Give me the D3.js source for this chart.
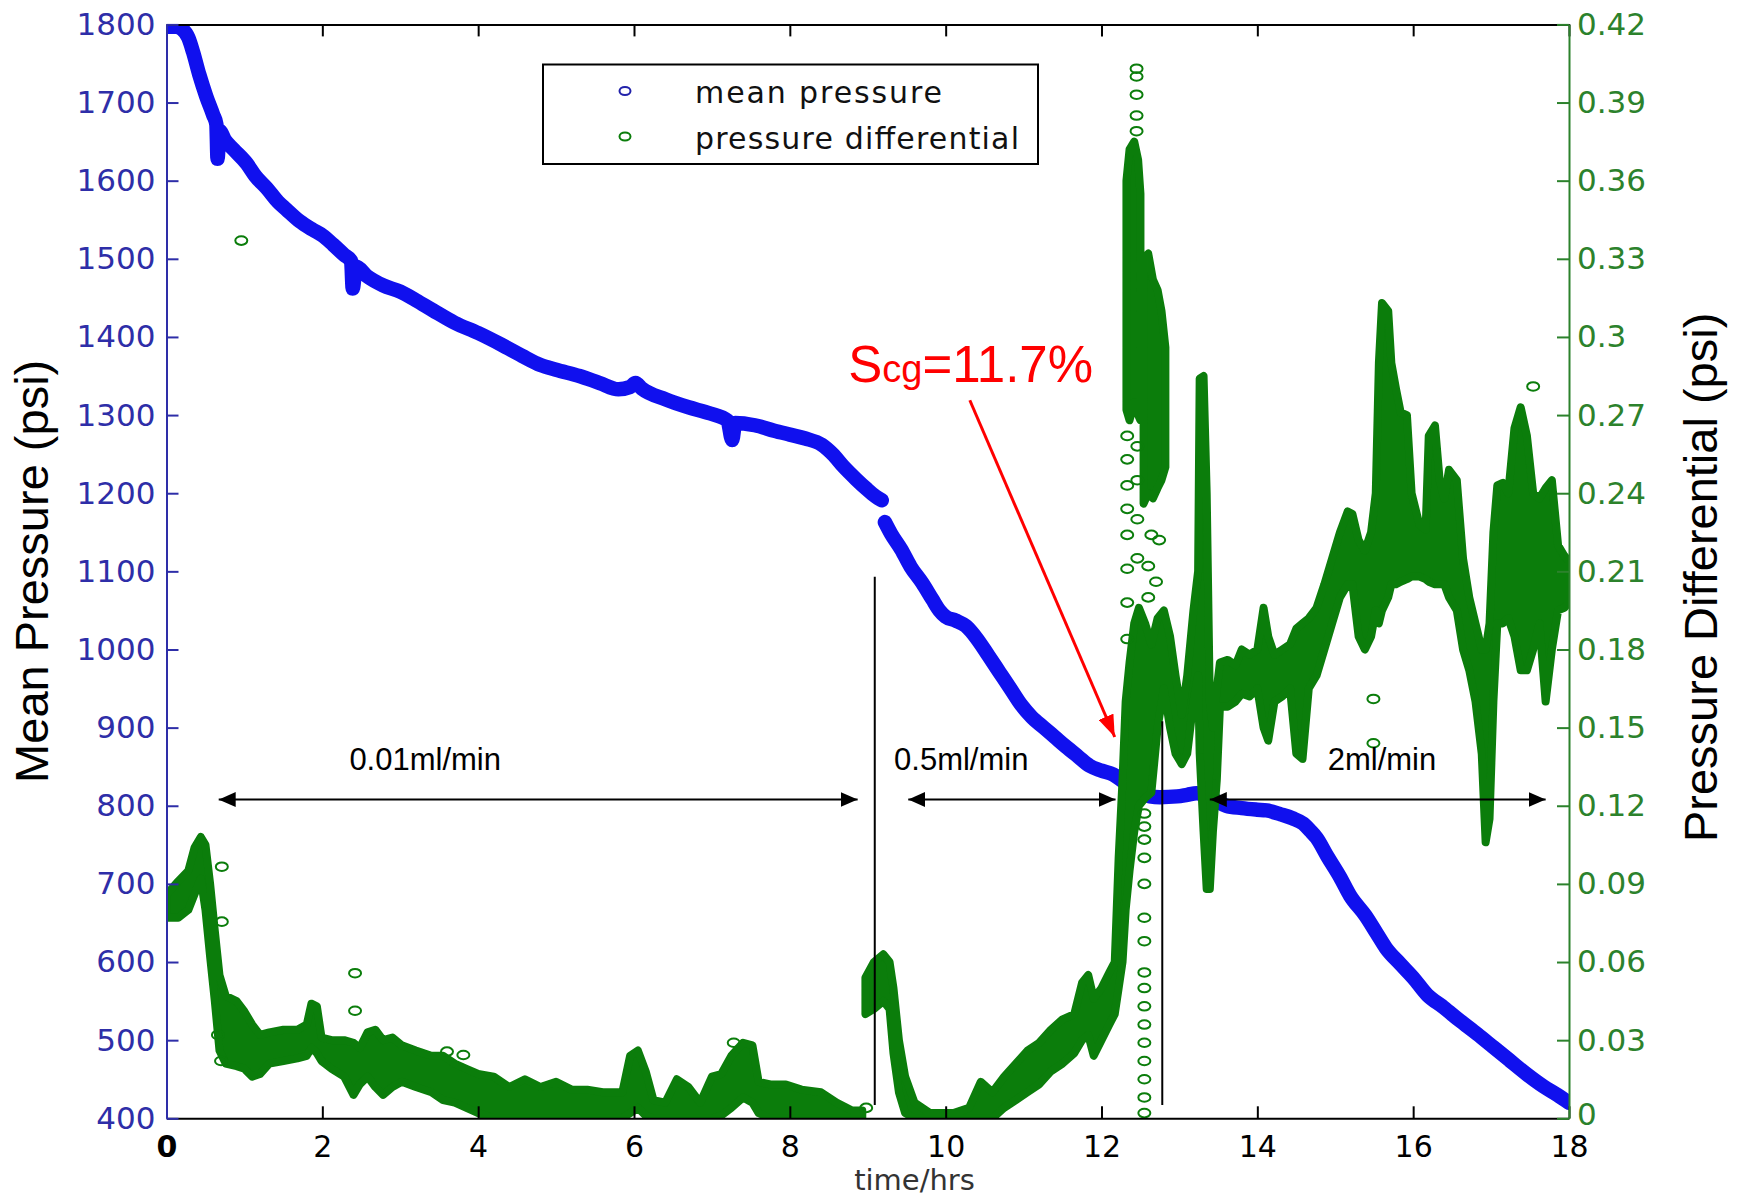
<!DOCTYPE html>
<html>
<head>
<meta charset="utf-8">
<script src="https://cdn.jsdelivr.net/npm/d3@7"></script>
<style>
  html, body { margin: 0; padding: 0; background: #ffffff; }
  svg { display: block; }
</style>
</head>
<body>
<svg id="chart" width="1741" height="1199"></svg>
<script>
// ---- axis ticks ----
const timeTicks = [0, 2, 4, 6, 8, 10, 12, 14, 16, 18];
const pressureTicks = [400, 500, 600, 700, 800, 900, 1000, 1100, 1200, 1300, 1400, 1500, 1600, 1700, 1800];
const diffTicks = [0, 0.03, 0.06, 0.09, 0.12, 0.15, 0.18, 0.21, 0.24, 0.27, 0.30, 0.33, 0.36, 0.39, 0.42];
const diffTickLabels = ["0", "0.03", "0.06", "0.09", "0.12", "0.15", "0.18", "0.21", "0.24", "0.27", "0.3", "0.33", "0.36", "0.39", "0.42"];

// ---- mean pressure samples: [hours, psi]; null = short logging gap ----
const meanPressure = [
  [0.00, 1797], [0.12, 1797], [0.20, 1794], [0.28, 1783], [0.34, 1765], [0.42, 1736],
  [0.51, 1708], [0.60, 1684], [0.64, 1672], [0.655, 1628], [0.68, 1664], [0.75, 1652],
  [0.86, 1640], [1.03, 1622], [1.14, 1606], [1.29, 1590], [1.43, 1573], [1.54, 1563],
  [1.71, 1548], [1.88, 1537], [2.00, 1530], [2.14, 1518], [2.28, 1505], [2.37, 1497],
  [2.39, 1462], [2.43, 1490], [2.57, 1478], [2.78, 1466], [3.00, 1458], [3.20, 1447],
  [3.42, 1434], [3.70, 1418], [4.00, 1405], [4.30, 1390], [4.56, 1376], [4.80, 1364],
  [5.00, 1358], [5.30, 1350], [5.56, 1341], [5.80, 1333], [5.95, 1336], [6.02, 1341],
  [6.10, 1334], [6.41, 1320], [6.70, 1310], [6.98, 1302], [7.20, 1293], [7.26, 1268],
  [7.30, 1290], [7.55, 1287], [7.80, 1280], [8.00, 1275], [8.20, 1270], [8.41, 1262],
  [8.55, 1250], [8.69, 1234], [8.85, 1218], [8.98, 1206], [9.10, 1196], [9.18, 1191],
  [9.20, null],
  [9.22, 1163], [9.30, 1148], [9.43, 1128], [9.55, 1106], [9.70, 1085], [9.83, 1064],
  [9.92, 1050], [10.00, 1042], [10.13, 1037], [10.26, 1030], [10.40, 1014], [10.55, 992],
  [10.69, 971], [10.83, 950], [10.97, 929], [11.10, 914], [11.26, 900], [11.40, 888],
  [11.54, 876], [11.70, 863], [11.85, 851], [12.00, 845], [12.15, 840], [12.28, 831],
  [12.40, 824], [12.50, 818], [12.62, 812], [12.75, 811], [12.97, 812], [13.10, 814],
  [13.22, 816], [13.35, 813], [13.48, 806], [13.60, 800], [13.80, 797], [14.00, 795],
  [14.12, 794], [14.30, 789], [14.45, 784], [14.59, 777], [14.68, 768], [14.76, 759],
  [14.90, 735], [15.06, 709], [15.19, 685], [15.39, 659], [15.53, 637], [15.65, 618],
  [15.84, 597], [16.00, 580], [16.18, 558], [16.39, 542], [16.60, 525], [16.82, 508],
  [17.03, 491], [17.24, 474], [17.45, 457], [17.67, 441], [17.85, 430], [18.00, 420]
];

// ---- pressure differential, dense readings: [hours, low psi, high psi] ----
const diffBand = [
  [0.00, 0.077, 0.086], [0.15, 0.077, 0.091], [0.28, 0.080, 0.095], [0.36, 0.086, 0.104],
  [0.44, 0.092, 0.108], [0.50, 0.080, 0.105], [0.56, 0.062, 0.090], [0.62, 0.045, 0.072],
  [0.68, 0.026, 0.055], [0.76, 0.021, 0.047], [0.90, 0.020, 0.045], [1.00, 0.019, 0.041],
  [1.10, 0.016, 0.036], [1.20, 0.017, 0.032], [1.32, 0.021, 0.033], [1.50, 0.022, 0.034],
  [1.68, 0.023, 0.034], [1.80, 0.024, 0.036], [1.86, 0.027, 0.044], [1.93, 0.025, 0.043],
  [1.99, 0.022, 0.031], [2.12, 0.019, 0.030], [2.28, 0.016, 0.030], [2.40, 0.009, 0.029],
  [2.48, 0.013, 0.027], [2.58, 0.016, 0.033], [2.68, 0.012, 0.034], [2.78, 0.009, 0.030],
  [2.90, 0.012, 0.031], [3.02, 0.014, 0.028], [3.20, 0.012, 0.026], [3.40, 0.010, 0.024],
  [3.55, 0.007, 0.024], [3.70, 0.006, 0.021], [3.85, 0.004, 0.019], [4.00, 0.002, 0.017],
  [4.20, 0.000, 0.016], [4.40, 0.000, 0.012], [4.60, 0.000, 0.015], [4.80, 0.000, 0.012],
  [5.00, 0.000, 0.014], [5.20, 0.000, 0.011], [5.40, 0.000, 0.011], [5.60, 0.000, 0.010],
  [5.85, 0.000, 0.010], [5.95, 0.002, 0.024], [6.05, 0.004, 0.026], [6.15, 0.001, 0.018],
  [6.25, 0.000, 0.007], [6.40, 0.000, 0.006], [6.55, 0.000, 0.015], [6.70, 0.000, 0.012],
  [6.85, 0.000, 0.006], [7.00, 0.000, 0.016], [7.12, 0.001, 0.017], [7.25, 0.004, 0.024],
  [7.40, 0.008, 0.029], [7.52, 0.006, 0.028], [7.60, 0.002, 0.014], [7.75, 0.000, 0.013],
  [7.95, 0.000, 0.013], [8.15, 0.000, 0.011], [8.40, 0.000, 0.010], [8.60, 0.000, 0.006],
  [8.80, 0.000, 0.003], [8.93, 0.000, 0.003],
  [8.95, null, null],
  [8.97, 0.040, 0.054], [9.08, 0.042, 0.060], [9.20, 0.045, 0.063], [9.28, 0.042, 0.060],
  [9.33, 0.025, 0.050], [9.40, 0.010, 0.030], [9.48, 0.002, 0.016], [9.60, 0.000, 0.006],
  [9.80, 0.000, 0.002], [10.10, 0.000, 0.002], [10.30, 0.000, 0.004], [10.45, 0.000, 0.014],
  [10.60, 0.000, 0.010], [10.75, 0.004, 0.016], [10.90, 0.007, 0.021], [11.05, 0.010, 0.026],
  [11.20, 0.013, 0.029], [11.35, 0.018, 0.034], [11.50, 0.021, 0.038], [11.65, 0.025, 0.040],
  [11.75, 0.030, 0.052], [11.83, 0.032, 0.055], [11.90, 0.024, 0.046], [12.00, 0.030, 0.050],
  [12.10, 0.036, 0.056], [12.17, 0.040, 0.060], [12.22, 0.050, 0.100], [12.27, 0.060, 0.130],
  [12.31, 0.080, 0.160], [12.36, 0.095, 0.175], [12.42, 0.110, 0.190], [12.48, 0.120, 0.196],
  [12.56, 0.123, 0.190], [12.64, 0.125, 0.182], [12.72, 0.150, 0.192], [12.80, 0.165, 0.195],
  [12.88, 0.150, 0.185], [12.95, 0.140, 0.170], [13.03, 0.136, 0.155], [13.10, 0.140, 0.170],
  [13.18, 0.160, 0.195], [13.24, 0.170, 0.210], [13.26, 0.140, 0.284], [13.31, 0.110, 0.285],
  [13.35, 0.088, 0.240], [13.39, 0.088, 0.160], [13.43, 0.110, 0.150], [13.48, 0.130, 0.165],
  [13.52, 0.158, 0.175], [13.62, 0.158, 0.176], [13.72, 0.160, 0.174], [13.80, 0.163, 0.180],
  [13.90, 0.162, 0.178], [14.00, 0.165, 0.180], [14.08, 0.150, 0.196], [14.14, 0.145, 0.185],
  [14.22, 0.160, 0.178], [14.32, 0.162, 0.180], [14.42, 0.165, 0.182], [14.50, 0.140, 0.188],
  [14.58, 0.138, 0.190], [14.66, 0.165, 0.192], [14.76, 0.170, 0.196], [14.86, 0.180, 0.205],
  [14.96, 0.190, 0.215], [15.06, 0.200, 0.225], [15.16, 0.205, 0.233], [15.22, 0.205, 0.232],
  [15.30, 0.185, 0.222], [15.38, 0.180, 0.218], [15.46, 0.185, 0.225], [15.52, 0.195, 0.240],
  [15.56, 0.190, 0.290], [15.60, 0.195, 0.313], [15.68, 0.200, 0.310], [15.72, 0.205, 0.290],
  [15.78, 0.205, 0.280], [15.84, 0.206, 0.271], [15.92, 0.207, 0.270], [15.98, 0.208, 0.240],
  [16.08, 0.208, 0.228], [16.16, 0.207, 0.226], [16.20, 0.206, 0.262], [16.28, 0.205, 0.266],
  [16.34, 0.205, 0.245], [16.40, 0.205, 0.238], [16.46, 0.200, 0.249], [16.56, 0.195, 0.245],
  [16.64, 0.180, 0.215], [16.72, 0.172, 0.200], [16.80, 0.160, 0.190], [16.88, 0.140, 0.180],
  [16.93, 0.106, 0.180], [16.98, 0.115, 0.190], [17.03, 0.160, 0.225], [17.08, 0.190, 0.243],
  [17.15, 0.190, 0.244], [17.22, 0.192, 0.240], [17.30, 0.185, 0.265], [17.38, 0.172, 0.273],
  [17.46, 0.172, 0.262], [17.54, 0.180, 0.240], [17.62, 0.190, 0.238], [17.70, 0.160, 0.242],
  [17.78, 0.180, 0.245], [17.86, 0.195, 0.220], [17.94, 0.196, 0.216], [18.00, 0.198, 0.214]
];

// ---- pressure differential, dense burst above the main trace: [hours, low psi, high psi] ----
const diffBurst = [
  [12.32, 0.272, 0.360], [12.36, 0.268, 0.372], [12.42, 0.275, 0.375], [12.47, 0.270, 0.368],
  [12.50, 0.268, 0.355],
  [12.52, null, null],
  [12.54, 0.236, 0.330], [12.60, 0.240, 0.332], [12.66, 0.238, 0.322], [12.72, 0.242, 0.318],
  [12.77, 0.245, 0.310], [12.82, 0.250, 0.296]
];

// ---- pressure differential, isolated readings: [hours, psi] ----
const diffScatter = [
  [0.66, 0.032], [0.70, 0.022], [0.71, 0.0966], [0.71, 0.0755], [0.96, 0.337],
  [2.42, 0.0557], [2.42, 0.0413], [3.60, 0.0256], [3.81, 0.0243], [7.28, 0.029], [8.98, 0.004],
  [12.45, 0.403], [12.45, 0.400], [12.45, 0.393], [12.45, 0.385], [12.45, 0.379],
  [12.33, 0.262], [12.33, 0.253], [12.33, 0.243], [12.33, 0.234], [12.33, 0.224], [12.33, 0.211],
  [12.33, 0.198], [12.33, 0.184],
  [12.46, 0.258], [12.46, 0.245], [12.46, 0.230], [12.46, 0.215],
  [12.60, 0.200], [12.60, 0.212], [12.64, 0.224], [12.70, 0.206], [12.74, 0.222],
  [12.55, 0.117], [12.55, 0.112], [12.55, 0.107], [12.55, 0.100], [12.55, 0.090], [12.55, 0.077],
  [12.55, 0.068], [12.55, 0.056], [12.55, 0.050], [12.55, 0.043], [12.55, 0.036], [12.55, 0.029],
  [12.55, 0.022], [12.55, 0.015], [12.55, 0.008], [12.55, 0.002],
  [15.49, 0.161], [15.49, 0.144], [17.54, 0.281]
];

// ---- text ----
const stageLabels = ["0.01ml/min", "0.5ml/min", "2ml/min"];
const legendLabels = ["mean pressure", "pressure differential"];

// ---- layout ----
const W = 1741, H = 1199;
const M = { left: 166.5, right: 1569, top: 24.4, bottom: 1118.3 };
const BLUE = "#1010ee";
const GREEN = "#0b7d0b";
const LEFT_C = "#2e2ea8";
const RIGHT_C = "#2c822c";

const x = d3.scaleLinear().domain([0, 18]).range([M.left, M.right]);
const yP = d3.scaleLinear().domain([400, 1800]).range([M.bottom, M.top]);
const yD = d3.scaleLinear().domain([0, 0.42]).range([M.bottom, M.top]);

const svg = d3.select("#chart");
svg.append("rect").attr("width", W).attr("height", H).attr("fill", "#ffffff");

const defs = svg.append("defs");
defs.append("clipPath").attr("id", "plotClip")
  .append("rect")
  .attr("x", M.left).attr("y", M.top)
  .attr("width", M.right - M.left).attr("height", M.bottom - M.top);

function arrowMarker(id, len, wid, color) {
  defs.append("marker")
    .attr("id", id)
    .attr("viewBox", `0 0 ${len} ${wid}`)
    .attr("refX", len).attr("refY", wid / 2)
    .attr("markerWidth", len).attr("markerHeight", wid)
    .attr("markerUnits", "userSpaceOnUse")
    .attr("orient", "auto-start-reverse")
    .append("path")
    .attr("d", `M0,0 L${len},${wid / 2} L0,${wid} Z`)
    .attr("fill", color);
}
arrowMarker("headBlack", 17, 15, "#000");
arrowMarker("headRed", 22, 16, "#ff0000");

// ---- data ----
const plot = svg.append("g").attr("clip-path", "url(#plotClip)");

const pressureLine = d3.line()
  .defined(d => d[1] != null)
  .curve(d3.curveMonotoneX)
  .x(d => x(d[0]))
  .y(d => yP(d[1]));

plot.append("path")
  .datum(meanPressure)
  .attr("d", pressureLine)
  .attr("fill", "none")
  .attr("stroke", BLUE)
  .attr("stroke-width", 14.5)
  .attr("stroke-linejoin", "round")
  .attr("stroke-linecap", "round");

const diffArea = d3.area()
  .defined(d => d[1] != null)
  .x(d => x(d[0]))
  .y0(d => yD(d[1]))
  .y1(d => yD(d[2]));

[diffBand, diffBurst].forEach(series => {
  plot.append("path")
    .datum(series)
    .attr("d", diffArea)
    .attr("fill", GREEN)
    .attr("stroke", GREEN)
    .attr("stroke-width", 8)
    .attr("stroke-linejoin", "round");
});

plot.selectAll("ellipse.diff")
  .data(diffScatter)
  .join("ellipse")
  .attr("class", "diff")
  .attr("cx", d => x(d[0]))
  .attr("cy", d => yD(d[1]))
  .attr("rx", 6).attr("ry", 4.3)
  .attr("fill", "none")
  .attr("stroke", GREEN)
  .attr("stroke-width", 2);

// ---- axes ----
function styleAxis(g, color, fontSize) {
  g.attr("font-family", "'DejaVu Sans', sans-serif").attr("font-size", fontSize);
  g.selectAll(".domain").attr("stroke", color).attr("stroke-width", 2);
  g.selectAll(".tick line").attr("stroke", color).attr("stroke-width", 2);
  g.selectAll(".tick text").attr("fill", color);
}

const axTop = svg.append("g")
  .attr("transform", `translate(0,${M.top})`)
  .call(d3.axisTop(x).tickValues(timeTicks).tickSize(-12).tickSizeOuter(0).tickFormat(""));
styleAxis(axTop, "#000", 31);

const axBottom = svg.append("g")
  .attr("transform", `translate(0,${M.bottom})`)
  .call(d3.axisBottom(x).tickValues(timeTicks).tickSize(-12).tickSizeOuter(0).tickPadding(17)
    .tickFormat(d => String(d)));
styleAxis(axBottom, "#000", 30);
axBottom.selectAll(".tick text").filter(d => d === 0).attr("font-weight", "bold");

const axLeft = svg.append("g")
  .attr("transform", `translate(${M.left},0)`)
  .call(d3.axisLeft(yP).tickValues(pressureTicks).tickSize(-12).tickSizeOuter(0).tickPadding(11)
    .tickFormat(d => String(d)));
styleAxis(axLeft, LEFT_C, 31);

const axRight = svg.append("g")
  .attr("transform", `translate(${M.right},0)`)
  .call(d3.axisRight(yD).tickValues(diffTicks).tickSize(-12).tickSizeOuter(0).tickPadding(8)
    .tickFormat(d => diffTickLabels[diffTicks.indexOf(d)]));
styleAxis(axRight, RIGHT_C, 31);
axRight.selectAll(".tick text").filter(d => d === 0).attr("dy", "0.2em");

// ---- axis titles ----
svg.append("text")
  .attr("transform", `translate(48,${(M.top + M.bottom) / 2}) rotate(-90)`)
  .attr("text-anchor", "middle")
  .attr("font-family", "'Liberation Sans', Arial, sans-serif")
  .attr("font-size", 47)
  .attr("fill", "#000")
  .text("Mean Pressure (psi)");

svg.append("text")
  .attr("transform", `translate(1717,${(M.top + M.bottom) / 2 + 6}) rotate(-90)`)
  .attr("text-anchor", "middle")
  .attr("font-family", "'Liberation Sans', Arial, sans-serif")
  .attr("font-size", 47)
  .attr("fill", "#000")
  .text("Pressure Differential (psi)");

svg.append("text")
  .attr("x", x(9.6)).attr("y", 1190)
  .attr("text-anchor", "middle")
  .attr("font-family", "'DejaVu Sans', sans-serif")
  .attr("font-size", 29)
  .attr("fill", "#333")
  .text("time/hrs");

// ---- legend ----
const legend = svg.append("g");
legend.append("rect")
  .attr("x", 543).attr("y", 64.5).attr("width", 495).attr("height", 99.5)
  .attr("fill", "#fff").attr("stroke", "#000").attr("stroke-width", 2);
[BLUE, GREEN].forEach((c, i) => {
  const yy = 91 + i * 45.5;
  legend.append("ellipse")
    .attr("cx", 625).attr("cy", yy).attr("rx", 5.5).attr("ry", 4)
    .attr("fill", "none").attr("stroke", i === 0 ? "#2222aa" : GREEN).attr("stroke-width", 2);
  legend.append("text")
    .attr("x", 695).attr("y", yy + 12)
    .attr("font-family", "'DejaVu Sans', sans-serif")
    .attr("font-size", 30)
    .attr("fill", "#111")
    .attr("textLength", i === 0 ? 247 : 324)
    .attr("lengthAdjust", "spacing")
    .text(legendLabels[i]);
});

// ---- stage annotations ----
const ann = svg.append("g");
const stageSpan = [[0.67, 8.87], [9.52, 12.18], [13.39, 17.70]];
const stageMid = [3.32, 10.2, 15.6];
const arrowP = 808, labelP = 846;

stageSpan.forEach((s, i) => {
  ann.append("line")
    .attr("x1", x(s[0])).attr("x2", x(s[1]))
    .attr("y1", yP(arrowP)).attr("y2", yP(arrowP))
    .attr("stroke", "#000").attr("stroke-width", 2)
    .attr("marker-start", "url(#headBlack)")
    .attr("marker-end", "url(#headBlack)");
  ann.append("text")
    .attr("x", x(stageMid[i])).attr("y", yP(labelP))
    .attr("text-anchor", "middle")
    .attr("font-family", "'Liberation Sans', Arial, sans-serif")
    .attr("font-size", 31)
    .attr("fill", "#000")
    .text(stageLabels[i]);
});

[[9.09, 1093], [12.78, 908]].forEach(b => {
  ann.append("line")
    .attr("x1", x(b[0])).attr("x2", x(b[0]))
    .attr("y1", yP(b[1])).attr("y2", yP(417))
    .attr("stroke", "#000").attr("stroke-width", 2);
});

// ---- saturation call-out ----
const scg = ann.append("text")
  .attr("x", x(8.75)).attr("y", yP(1342))
  .attr("font-family", "'Liberation Sans', Arial, sans-serif")
  .attr("fill", "#ff0000");
scg.append("tspan").attr("font-size", 51).text("S");
scg.append("tspan").attr("font-size", 38).text("cg");
scg.append("tspan").attr("font-size", 51).text("=11.7%");

ann.append("line")
  .attr("x1", x(10.31)).attr("y1", yP(1319))
  .attr("x2", x(12.17)).attr("y2", yP(888))
  .attr("stroke", "#ff0000").attr("stroke-width", 3)
  .attr("marker-end", "url(#headRed)");
</script>
</body>
</html>
